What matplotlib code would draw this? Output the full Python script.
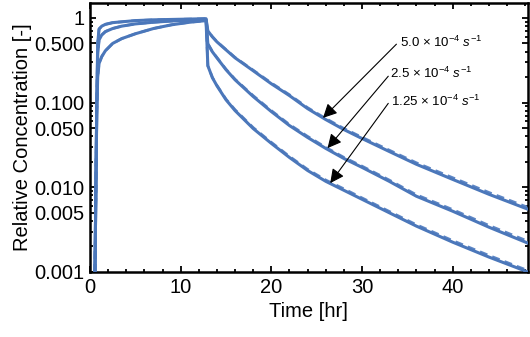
import numpy as np
import matplotlib
matplotlib.use("Agg")
import matplotlib.pyplot as plt
from matplotlib.ticker import FixedLocator, LogLocator, MultipleLocator, NullFormatter

plt.rcParams['font.family'] = ['Liberation Sans', 'DejaVu Sans']
plt.rcParams['mathtext.fontset'] = 'custom'
plt.rcParams['mathtext.rm'] = 'Liberation Sans'
plt.rcParams['mathtext.it'] = 'Liberation Sans:italic'

# pulse loading phase (hr) - all three rates
t_rise = [0.55, 0.65, 0.75, 0.85, 1.0, 1.3, 1.7, 2.5, 3.5, 5, 7, 9, 11, 12.8]
rise_hi = [0.001, 0.01, 0.1, 0.5, 0.74, 0.8, 0.84, 0.88, 0.9, 0.93, 0.95, 0.96, 0.97, 0.98]
rise_mid = [0.001, 0.01, 0.1, 0.38, 0.55, 0.63, 0.69, 0.75, 0.8, 0.85, 0.89, 0.92, 0.94, 0.96]
rise_lo = [0.001, 0.01, 0.08, 0.2, 0.29, 0.35, 0.41, 0.5, 0.57, 0.65, 0.75, 0.83, 0.89, 0.93]

# flushing phase (hr)
t_decay = [13.0, 13.5, 14, 15, 16, 18, 20, 22, 24, 26, 28, 30, 33, 36, 40, 44, 48.3]
decay_hi = [0.703, 0.598, 0.522, 0.42, 0.338, 0.238, 0.167, 0.121, 0.085, 0.0631,
            0.0481, 0.0377, 0.0265, 0.0187, 0.0124, 0.00827, 0.00551]
decay_mid = [0.494, 0.398, 0.338, 0.245, 0.186, 0.118, 0.0784, 0.0536, 0.0388, 0.0288,
             0.0219, 0.0172, 0.01177, 0.00784, 0.00522, 0.00338, 0.00219]
decay_lo = [0.272, 0.197, 0.158, 0.108, 0.0805, 0.0494, 0.033, 0.0225, 0.0158, 0.01177,
            0.00922, 0.00722, 0.00501, 0.00348, 0.00225, 0.0015, 0.001]

# dashed (second model) - sits a little above in the tail
dash_hi = [0.703, 0.60, 0.525, 0.424, 0.342, 0.242, 0.171, 0.124, 0.0873, 0.065,
           0.0496, 0.039, 0.0275, 0.0195, 0.0130, 0.0087, 0.0058]
dash_mid = [0.494, 0.40, 0.341, 0.248, 0.189, 0.121, 0.0806, 0.0552, 0.040, 0.0297,
            0.0226, 0.0178, 0.0122, 0.00817, 0.00546, 0.00355, 0.00231]
dash_lo = [0.272, 0.198, 0.16, 0.11, 0.0825, 0.0508, 0.034, 0.0232, 0.0163, 0.0122,
           0.0096, 0.0075, 0.0052, 0.00362, 0.00235, 0.00157, 0.00104]

labels = [r'5.0 $\times$ 10$^{-4}$ $s^{-1}$',
          r'2.5 $\times$ 10$^{-4}$ $s^{-1}$',
          r'1.25 $\times$ 10$^{-4}$ $s^{-1}$']
arrow_tip = [(25.7, 0.066), (26.2, 0.029), (26.5, 0.0112)]
arrow_tail = [(33.8, 0.49), (32.9, 0.205), (32.9, 0.098)]
label_pos = [(34.2, 0.52), (33.1, 0.22), (33.2, 0.104)]

y_major = [0.001, 0.005, 0.01, 0.05, 0.1, 0.5, 1]
y_major_lbl = ['0.001', '0.005', '0.010', '0.050', '0.100', '0.500', '1']

col = '#4b77ba'
col_d = '#5d86c5'

fig = plt.figure(figsize=(5.3, 3.37), dpi=100)
ax = fig.add_axes([0.1698, 0.193, 0.8262, 0.798])

t_all = np.concatenate([t_rise, t_decay])
for r, d, dd in [(rise_hi, decay_hi, dash_hi), (rise_mid, decay_mid, dash_mid),
                 (rise_lo, decay_lo, dash_lo)]:
    ax.plot(t_all, np.concatenate([r, d]), color=col, lw=2.2, zorder=3)
    ax.plot(t_all, np.concatenate([r, dd]), color=col_d, lw=1.9, ls=(0, (3, 2)), zorder=2)

for lbl, tip, tail, pos in zip(labels, arrow_tip, arrow_tail, label_pos):
    ax.annotate('', xy=tip, xytext=tail,
                arrowprops=dict(arrowstyle='-|>', color='black', lw=0.8,
                                mutation_scale=21, shrinkA=0, shrinkB=0))
    ax.text(pos[0], pos[1], lbl, fontsize=9.5, ha='left', va='center')

ax.set_yscale('log')
ax.set_xlim(0, 48.3)
ax.set_ylim(0.001, 1.5)

ax.xaxis.set_major_locator(MultipleLocator(10))
ax.xaxis.set_minor_locator(MultipleLocator(2))
ax.yaxis.set_major_locator(FixedLocator(y_major))
ax.set_yticklabels(y_major_lbl)
ax.yaxis.set_minor_locator(LogLocator(base=10, subs=[2, 3, 4, 6, 7, 8, 9]))
ax.yaxis.set_minor_formatter(NullFormatter())

ax.tick_params(which='both', direction='in', top=True, right=True, width=1.3,
               labelsize=14.5, pad=4)
ax.tick_params(which='major', length=4.5)
ax.tick_params(which='minor', length=2.5)
for s in ax.spines.values():
    s.set_linewidth(1.8)

ax.set_xlabel('Time [hr]', fontsize=14.5, labelpad=4)
ax.set_ylabel('Relative Concentration [-]', fontsize=14.5, labelpad=2)

fig.savefig('out.png', dpi=100)
